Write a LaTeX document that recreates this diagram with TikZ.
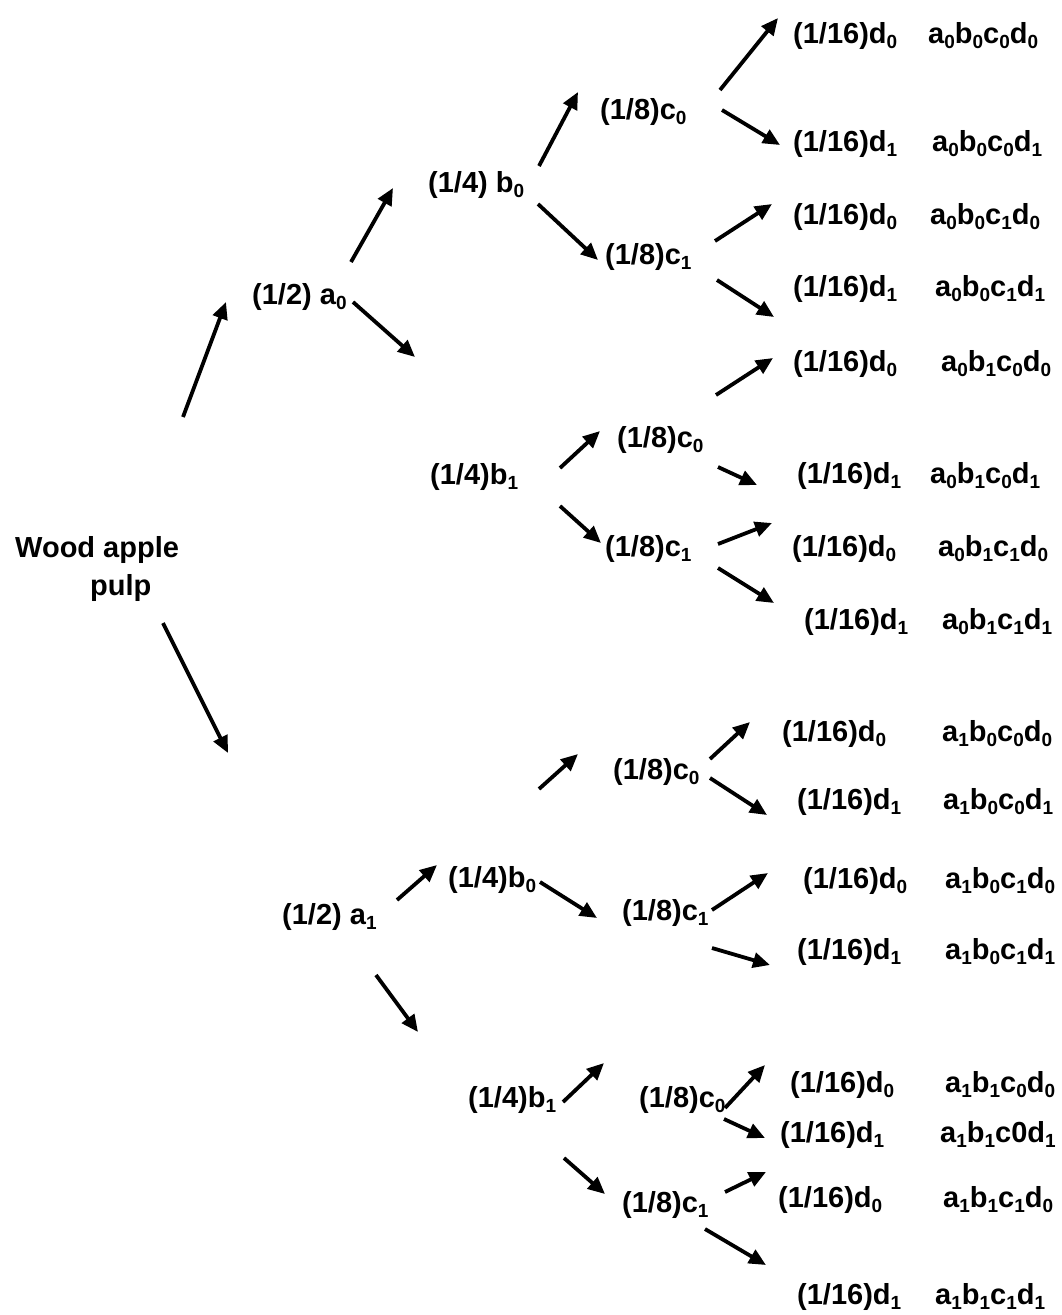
\documentclass[tikz,border=0pt]{standalone}
\usepackage{fontspec}
\setmainfont{Liberation Sans}
\usetikzlibrary{arrows.meta}
\newcommand{\lsub}[1]{\raisebox{-5pt}{\fontsize{19}{19}\selectfont #1}}
\newcommand{\cmb}[8]{#1\lsub{#2}#3\lsub{#4}#5\lsub{#6}#7\lsub{#8}}
\tikzset{
  lbl/.style={anchor=west, inner sep=0pt, text height=20pt, text depth=5pt, font=\fontsize{29}{34}\selectfont\bfseries},
  arr/.style={line width=3.8pt, -{Triangle[length=17pt,width=15pt]}}
}
\begin{document}
\begin{tikzpicture}[x=1pt,y=-1pt]
\useasboundingbox[fill=white] (0,0) rectangle (1061,1315);
% root
\node[lbl] (root1) at (15,550) {Wood apple};
\node[lbl] (root2) at (90,588) {pulp};
% level 1
\node[lbl] (a0) at (252,297) {(1/2) a\lsub{0}};
\node[lbl] (a1) at (282,917) {(1/2) a\lsub{1}};
% level 2
\node[lbl] (b00) at (428,185) {(1/4) b\lsub{0}};
\node[lbl] (b01) at (430,477) {(1/4)b\lsub{1}};
\node[lbl] (b10) at (448,880) {(1/4)b\lsub{0}};
\node[lbl] (b11) at (468,1100) {(1/4)b\lsub{1}};
% level 3
\node[lbl] (c000) at (600,112) {(1/8)c\lsub{0}};
\node[lbl] (c001) at (605,257) {(1/8)c\lsub{1}};
\node[lbl] (c010) at (617,440) {(1/8)c\lsub{0}};
\node[lbl] (c011) at (605,549) {(1/8)c\lsub{1}};
\node[lbl] (c100) at (613,772) {(1/8)c\lsub{0}};
\node[lbl] (c101) at (622,913) {(1/8)c\lsub{1}};
\node[lbl] (c110) at (639,1100) {(1/8)c\lsub{0}};
\node[lbl] (c111) at (622,1205) {(1/8)c\lsub{1}};
% level 4 : probabilities
\node[lbl] (d1)  at (793,36)   {(1/16)d\lsub{0}};
\node[lbl] (d2)  at (793,144)  {(1/16)d\lsub{1}};
\node[lbl] (d3)  at (793,217)  {(1/16)d\lsub{0}};
\node[lbl] (d4)  at (793,289)  {(1/16)d\lsub{1}};
\node[lbl] (d5)  at (793,364)  {(1/16)d\lsub{0}};
\node[lbl] (d6)  at (797,476)  {(1/16)d\lsub{1}};
\node[lbl] (d7)  at (792,549)  {(1/16)d\lsub{0}};
\node[lbl] (d8)  at (804,622)  {(1/16)d\lsub{1}};
\node[lbl] (d9)  at (782,734)  {(1/16)d\lsub{0}};
\node[lbl] (d10) at (797,802)  {(1/16)d\lsub{1}};
\node[lbl] (d11) at (803,881)  {(1/16)d\lsub{0}};
\node[lbl] (d12) at (797,952)  {(1/16)d\lsub{1}};
\node[lbl] (d13) at (790,1085) {(1/16)d\lsub{0}};
\node[lbl] (d14) at (780,1135) {(1/16)d\lsub{1}};
\node[lbl] (d15) at (778,1200) {(1/16)d\lsub{0}};
\node[lbl] (d16) at (797,1297) {(1/16)d\lsub{1}};
% level 4 : combinations
\node[lbl] (k1)  at (928,36)   {\cmb{a}{0}{b}{0}{c}{0}{d}{0}};
\node[lbl] (k2)  at (932,144)  {\cmb{a}{0}{b}{0}{c}{0}{d}{1}};
\node[lbl] (k3)  at (930,217)  {\cmb{a}{0}{b}{0}{c}{1}{d}{0}};
\node[lbl] (k4)  at (935,289)  {\cmb{a}{0}{b}{0}{c}{1}{d}{1}};
\node[lbl] (k5)  at (941,364)  {\cmb{a}{0}{b}{1}{c}{0}{d}{0}};
\node[lbl] (k6)  at (930,476)  {\cmb{a}{0}{b}{1}{c}{0}{d}{1}};
\node[lbl] (k7)  at (938,549)  {\cmb{a}{0}{b}{1}{c}{1}{d}{0}};
\node[lbl] (k8)  at (942,622)  {\cmb{a}{0}{b}{1}{c}{1}{d}{1}};
\node[lbl] (k9)  at (942,734)  {\cmb{a}{1}{b}{0}{c}{0}{d}{0}};
\node[lbl] (k10) at (943,802)  {\cmb{a}{1}{b}{0}{c}{0}{d}{1}};
\node[lbl] (k11) at (945,881)  {\cmb{a}{1}{b}{0}{c}{1}{d}{0}};
\node[lbl] (k12) at (945,952)  {\cmb{a}{1}{b}{0}{c}{1}{d}{1}};
\node[lbl] (k13) at (945,1085) {\cmb{a}{1}{b}{1}{c}{0}{d}{0}};
\node[lbl] (k14) at (940,1135) {a\lsub{1}b\lsub{1}c0d\lsub{1}};
\node[lbl] (k15) at (943,1200) {\cmb{a}{1}{b}{1}{c}{1}{d}{0}};
\node[lbl] (k16) at (935,1297) {\cmb{a}{1}{b}{1}{c}{1}{d}{1}};
% arrow end points
\coordinate (s1) at (183,417);  \coordinate (e1) at (226,302);
\coordinate (s2) at (163,623);  \coordinate (e2) at (228,753);
\coordinate (s3) at (351,262);  \coordinate (e3) at (393,188);
\coordinate (s4) at (353,302);  \coordinate (e4) at (415,357);
\coordinate (s5) at (539,166);  \coordinate (e5) at (578,92);
\coordinate (s6) at (538,204);  \coordinate (e6) at (598,260);
\coordinate (s7) at (720,90);   \coordinate (e7) at (778,18);
\coordinate (s8) at (722,110);  \coordinate (e8) at (780,145);
\coordinate (s9) at (715,241);  \coordinate (e9) at (772,204);
\coordinate (s10) at (717,280); \coordinate (e10) at (774,317);
\coordinate (s11) at (716,395); \coordinate (e11) at (773,358);
\coordinate (s12) at (560,468); \coordinate (e12) at (600,431);
\coordinate (s13) at (560,506); \coordinate (e13) at (601,543);
\coordinate (s14) at (718,467); \coordinate (e14) at (757,485);
\coordinate (s15) at (718,544); \coordinate (e15) at (772,523);
\coordinate (s16) at (718,568); \coordinate (e16) at (774,603);
\coordinate (s17) at (539,789); \coordinate (e17) at (578,754);
\coordinate (s18) at (710,759); \coordinate (e18) at (750,722);
\coordinate (s19) at (710,778); \coordinate (e19) at (767,815);
\coordinate (s20) at (397,900); \coordinate (e20) at (437,865);
\coordinate (s21) at (376,975); \coordinate (e21) at (418,1032);
\coordinate (s22) at (540,882); \coordinate (e22) at (597,918);
\coordinate (s23) at (712,910); \coordinate (e23) at (768,873);
\coordinate (s24) at (712,948); \coordinate (e24) at (770,965);
\coordinate (s25) at (563,1102); \coordinate (e25) at (604,1063);
\coordinate (s26) at (564,1158); \coordinate (e26) at (605,1194);
\coordinate (s27) at (725,1108); \coordinate (e27) at (765,1065);
\coordinate (s28) at (724,1119); \coordinate (e28) at (765,1138);
\coordinate (s29) at (725,1192); \coordinate (e29) at (766,1172);
\coordinate (s30) at (705,1229); \coordinate (e30) at (766,1265);
\foreach \i in {1,...,30} { \draw[arr] (s\i) -- (e\i); }
\end{tikzpicture}
\end{document}
